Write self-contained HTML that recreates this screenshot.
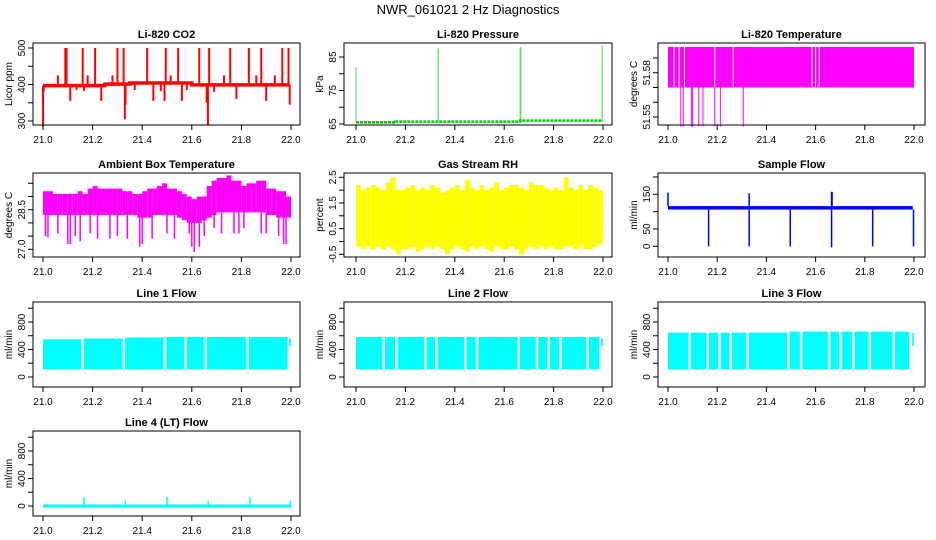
<!DOCTYPE html>
<html><head><meta charset="utf-8"><style>
html,body{margin:0;padding:0;background:#fff;}
svg{display:block;font-family:"Liberation Sans",Arial,sans-serif;}
</style></head><body>
<svg id="chart" width="936" height="540" viewBox="0 0 936 540" xmlns="http://www.w3.org/2000/svg">
<rect x="0" y="0" width="936" height="540" fill="#fff"/>
<text x="468" y="14" text-anchor="middle" font-size="13">NWR_061021  2 Hz Diagnostics</text>
</svg>
<script>
// ---- data ----
var xTicks = [21.0, 21.2, 21.4, 21.6, 21.8, 22.0];
var xTickLabels = ["21.0", "21.2", "21.4", "21.6", "21.8", "22.0"];

var co2BaseT = [21.0, 21.25, 21.35, 21.6, 21.995];
var co2BaseV = [397, 401, 404, 399, 399];
var co2SpikeT = [21.0, 21.003, 21.06, 21.09, 21.095, 21.11, 21.135, 21.16, 21.165, 21.18, 21.21, 21.235, 21.28, 21.30, 21.325, 21.33, 21.333, 21.37, 21.42, 21.445, 21.475, 21.49, 21.495, 21.515, 21.545, 21.56, 21.58, 21.63, 21.66, 21.665, 21.67, 21.69, 21.73, 21.755, 21.78, 21.83, 21.86, 21.88, 21.90, 21.935, 21.965, 21.99, 21.995];
var co2SpikeV = [285, 380, 425, 500, 500, 355, 385, 500, 382, 425, 500, 355, 425, 500, 500, 305, 345, 385, 500, 355, 382, 355, 500, 425, 500, 355, 385, 500, 350, 288, 500, 380, 425, 500, 360, 500, 425, 500, 355, 425, 500, 500, 345];

var presBaseT = [21.0, 21.16, 21.665, 21.995];
var presBaseV = [65.5, 65.7, 66.0, 66.0];
var presSpikeT = [21.0, 21.333, 21.665, 21.667, 21.997];
var presSpikeV = [82, 87.5, 88, 88, 88.3];

var tempBandLo = 51.570;
var tempBandHi = 51.5975;
var tempGapT = [21.025, 21.045, 21.067, 21.19, 21.265, 21.585, 21.60, 21.615];
var tempDropT = [21.052, 21.062, 21.095, 21.100, 21.125, 21.142, 21.19, 21.213, 21.306];
var tempDropV = [51.5435, 51.5435, 51.5435, 51.5435, 51.5435, 51.5435, 51.5435, 51.5435, 51.5435];

var ambHi = [29.2,29.2,29.1,29.1,29.1, 29.1,29.1,29.2,29.1,29.3, 29.4,29.3,29.3,29.3,29.3, 29.3,29.2,29.2,29.1,29.1, 29.2,29.3,29.3,29.4,29.5, 29.3,29.3,29.2,29.1,29.0, 28.9,29.0,29.0,29.4,29.6, 29.7,29.7,29.8,29.6,29.6, 29.4,29.5,29.5,29.6,29.6, 29.3,29.3,29.2,29.2,29.0];
var ambLo = [28.3,28.3,28.3,28.3,28.3, 28.3,28.3,28.3,28.3,28.3, 28.3,28.3,28.3,28.3,28.3, 28.3,28.3,28.3,28.3,28.2, 28.2,28.2,28.3,28.3,28.3, 28.3,28.3,28.2,28.1,28.0, 28.0,28.0,28.1,28.2,28.3, 28.4,28.4,28.4,28.4,28.4, 28.4,28.4,28.4,28.4,28.4, 28.3,28.3,28.2,28.2,28.2];
var ambDipT = [21.01,21.02,21.06,21.10,21.11,21.13,21.15,21.19,21.22,21.27,21.30,21.34,21.39,21.40,21.44,21.50,21.53,21.59,21.60,21.61,21.63,21.65,21.69,21.72,21.77,21.79,21.81,21.88,21.90,21.95,21.97,21.98];
var ambDipV = [27.5,27.45,27.6,27.2,27.2,27.5,27.3,27.6,27.4,27.4,27.5,27.4,27.1,27.2,27.4,27.6,27.4,27.6,27.1,26.9,27.1,27.5,27.8,27.6,27.6,27.6,27.8,27.6,27.6,27.5,27.2,27.2];

var rhHi = [2.2,2.0,2.1,2.2,2.1,2.0,2.3,2.5,2.0,2.0, 2.1,2.2,2.0,2.1,2.0,2.2,2.1,1.9,2.0,2.1, 2.2,2.0,2.4,2.1,2.0,2.2,2.0,2.1,2.3,2.0, 2.1,2.2,2.2,2.1,2.0,2.3,2.2,2.2,2.1,2.0, 2.1,2.0,2.5,2.1,2.0,2.2,2.0,2.2,2.1,2.0];
var rhLo = [-0.2,-0.3,-0.2,-0.3,-0.2,-0.3,-0.2,-0.3,-0.5,-0.3, -0.3,-0.2,-0.4,-0.3,-0.2,-0.3,-0.2,-0.3,-0.5,-0.3, -0.2,-0.3,-0.4,-0.2,-0.3,-0.2,-0.3,-0.4,-0.2,-0.3, -0.3,-0.2,-0.3,-0.5,-0.3,-0.2,-0.3,-0.2,-0.3,-0.2, -0.3,-0.3,-0.2,-0.2,-0.3,-0.2,-0.3,-0.3,-0.2,-0.1];

var sfBandLo = 106, sfBandHi = 116;
var sfDropT = [21.165, 21.33, 21.497, 21.665, 21.832, 21.998];
var sfDropV = [0, 0, 0, -3, 0, 0];
var sfSpikeT = [21.0, 21.33, 21.665, 21.667];
var sfSpikeV = [155, 153, 157, 157];

var l1SegHi = [549, 560, 575, 583, 583, 583, 583];
var l1GapT = [21.159, 21.326, 21.492, 21.575, 21.656, 21.825, 21.991];
var l2GapT = [21.112, 21.163, 21.281, 21.325, 21.443, 21.490, 21.659, 21.733, 21.780, 21.828, 21.938, 21.99];
var l3GapT = [21.088, 21.161, 21.209, 21.255, 21.324, 21.489, 21.541, 21.655, 21.701, 21.753, 21.820, 21.918, 21.985];
var lineLo = 111;
var l2Hi = 583, l3HiA = 646, l3HiB = 660;
var l4SpikeT = [21.165, 21.332, 21.5, 21.666, 21.835, 21.998];
var l4SpikeV = [130, 80, 130, 80, 130, 80];

// ---- layout ----
var colBox = [[33, 300], [344, 612], [658, 925]];
var colX = [[43, 291], [356, 603], [668, 914]];
var rowBox = [[43, 125], [173, 257], [302, 387], [431, 516]];
var svg = document.getElementById('chart');
var NS = 'http://www.w3.org/2000/svg';
function mk(tag, attrs, parent) {
  var e = document.createElementNS(NS, tag);
  for (var k in attrs) e.setAttribute(k, attrs[k]);
  (parent || svg).appendChild(e);
  return e;
}

function panel(name, col, row, title, ylab, yRef, yTicks, yLabels) {
  var g = mk('g', {});
  
  
  var bx = colBox[col], by = rowBox[row], cx = colX[col];
  var P = {g: g,
    x: function (t) { return cx[0] + (t - 21) * (cx[1] - cx[0]); },
    y: function (v) { return yRef[1] + (v - yRef[0]) * (yRef[3] - yRef[1]) / (yRef[2] - yRef[0]); },
    bx: bx, by: by};
  var dg = mk('g', {}, g);
  
  
  P.d = dg;
  P.finish = function () {
    var fr = mk('rect', {x: bx[0], y: by[0], width: bx[1] - bx[0], height: by[1] - by[0], fill: 'none', stroke: '#000', 'stroke-width': 1}, g);
    
    
    var t = mk('text', {x: (bx[0] + bx[1]) / 2, y: by[0] - 5, 'text-anchor': 'middle', 'font-size': 11, 'font-weight': 'bold'}, g);
    t.textContent = title;
    
    
    var ym = (by[0] + by[1]) / 2;
    var yl = mk('text', {x: bx[0] - 21, y: ym, 'text-anchor': 'middle', 'font-size': 10, transform: 'rotate(-90 ' + (bx[0] - 21) + ' ' + ym + ')'}, g);
    yl.textContent = ylab;
    
    
    var xa = mk('g', {}, g);
    
    
    xTicks.forEach(function (v, i) {
      var px = P.x(v);
      mk('line', {x1: px, x2: px, y1: by[1], y2: by[1] + 5, stroke: '#000'}, xa);
      var tl = mk('text', {x: px, y: by[1] + 18, 'text-anchor': 'middle', 'font-size': 10}, xa);
      tl.textContent = xTickLabels[i];
    });
    var ya = mk('g', {}, g);
    
    
    yTicks.forEach(function (v) {
      var py = P.y(v);
      mk('line', {x1: bx[0] - 5, x2: bx[0], y1: py, y2: py, stroke: '#000'}, ya);
    });
    yLabels.forEach(function (v) {
      var py = P.y(v);
      var lx = bx[0] - 8;
      var tl = mk('text', {x: lx, y: py, 'text-anchor': 'middle', 'font-size': 10, transform: 'rotate(-90 ' + lx + ' ' + py + ')'}, ya);
      tl.textContent = name === 'ambient' ? v.toFixed(1) : (name === 'temp' ? v.toFixed(2) : (name === 'rh' ? v.toFixed(1) : String(v)));
    });
  };
  return P;
}
function vline(P, t, v1, v2, color, w) {
  return mk('line', {x1: P.x(t), x2: P.x(t), y1: P.y(v1), y2: P.y(v2), stroke: color, 'stroke-width': w || 1}, P.d);
}
function band(P, t1, t2, v1, v2, color) {
  var a = P.x(t1), b = P.x(t2), c = P.y(v2), d = P.y(v1);
  return mk('rect', {x: Math.min(a, b), y: Math.min(c, d), width: Math.abs(b - a), height: Math.abs(d - c), fill: color}, P.d);
}
function stepLine(P, ts, vs, color, w, dash) {
  var pts = [];
  for (var i = 0; i < ts.length; i++) {
    if (i > 0) pts.push(P.x(ts[i]) + ',' + P.y(vs[i - 1]));
    pts.push(P.x(ts[i]) + ',' + P.y(vs[i]));
  }
  var a = {points: pts.join(' '), fill: 'none', stroke: color, 'stroke-width': w};
  if (dash) a['stroke-dasharray'] = dash;
  return mk('polyline', a, P.d);
}

// CO2
var p = panel('co2', 0, 0, 'Li-820 CO2', 'Licor ppm', [500, 48, 300, 121], [300, 350, 400, 450, 500], [300, 400, 500]);
co2SpikeT.forEach(function (t, i) {
  var base = co2BaseV[0];
  for (var k = 0; k < co2BaseT.length; k++) if (t >= co2BaseT[k]) base = co2BaseV[k];
  vline(p, t, base, co2SpikeV[i], '#ff0000', 2);
});
stepLine(p, co2BaseT, co2BaseV, '#ff0000', 3.5);
p.finish();

// Pressure
p = panel('pressure', 1, 0, 'Li-820 Pressure', 'kPa', [85, 57, 65, 124], [65, 70, 75, 80, 85], [65, 75, 85]);
presSpikeT.forEach(function (t, i) { vline(p, t, 65.8, presSpikeV[i], '#00cc00', 1.5).setAttribute('stroke-dasharray', '1,1'); });
stepLine(p, presBaseT, presBaseV, '#00cc00', 2.5, '3,1');
p.finish();

// Li-820 temperature
p = panel('temp', 2, 0, 'Li-820 Temperature', 'degrees C', [51.59, 58, 51.55, 117], [51.55, 51.56, 51.57, 51.58, 51.59], [51.55, 51.58]);
band(p, 21.0, 22.0, tempBandLo, tempBandHi, '#ff00ff');
tempDropT.forEach(function (t, i) { vline(p, t, tempBandLo, tempDropV[i], '#ff00ff', 1); });
tempGapT.forEach(function (t) { vline(p, t, tempBandLo + 0.0005, tempBandHi, '#ffffff', 1); });
p.finish();

// Ambient
p = panel('ambient', 0, 1, 'Ambient Box Temperature', 'degrees C', [29.5, 183.3, 27.0, 249.3], [27.0, 27.5, 28.0, 28.5, 29.0, 29.5], [27.0, 28.5]);
ambHi.forEach(function (h, i) { band(p, 21 + i * 0.02, 21 + (i + 1) * 0.02, ambLo[i], h, '#ff00ff'); });
ambDipT.forEach(function (t, i) { vline(p, t, 28.4, ambDipV[i], '#ff00ff', 1.5); });
p.finish();

// RH
p = panel('rh', 1, 1, 'Gas Stream RH', 'percent', [2.5, 177.3, -0.5, 254.3], [-0.5, 0, 0.5, 1, 1.5, 2, 2.5], [-0.5, 0.5, 1.5, 2.5]);
rhHi.forEach(function (h, i) { band(p, 21 + i * 0.02, 21 + (i + 1) * 0.02, rhLo[i], h, '#ffff00'); });
p.finish();

// Sample flow
p = panel('sample-flow', 2, 1, 'Sample Flow', 'ml/min', [0, 246.3, 150, 194.3], [0, 50, 100, 150, 200], [0, 50, 150]);
band(p, 21.0, 21.995, sfBandLo, sfBandHi, '#0000ff');
sfDropT.forEach(function (t, i) { vline(p, t, sfBandLo, sfDropV[i], '#0000ff', 1.5); });
sfSpikeT.forEach(function (t, i) { vline(p, t, sfBandHi, sfSpikeV[i], '#0000ff', 1.5); });
p.finish();

function lineFlow(name, col, row, title, gaps, his, tailHi) {
  var P = panel(name, col, row, title, 'ml/min', [0, rowBox[row][1] - 10, 800, rowBox[row][1] - 65], [0, 200, 400, 600, 800, 1000], [0, 400, 800]);
  var start = 21.0;
  gaps.forEach(function (gt, i) {
    band(P, start, gt - 0.005, lineLo, his[i], '#00ffff');
    start = gt + 0.005;
  });
  band(P, 21.993, 22.0, 450, tailHi, '#00ffff');
  P.finish();
}
lineFlow('line1-flow', 0, 2, 'Line 1 Flow', l1GapT, l1SegHi, 560);
var l2His = l2GapT.map(function () { return l2Hi; });
lineFlow('line2-flow', 1, 2, 'Line 2 Flow', l2GapT, l2His, 560);
var l3His = l3GapT.map(function (t) { return t > 21.5 ? l3HiB : l3HiA; });
lineFlow('line3-flow', 2, 2, 'Line 3 Flow', l3GapT, l3His, 640);

// Line 4
p = panel('line4-flow', 0, 3, 'Line 4 (LT) Flow', 'ml/min', [0, 506, 800, 451], [0, 200, 400, 600, 800, 1000], [0, 400, 800]);
l4SpikeT.forEach(function (t, i) { vline(p, t, 0, l4SpikeV[i], '#00ffff', 1.5); });
stepLine(p, [21.0, 22.0], [0, 0], '#00ffff', 3);
p.finish();
</script>
</body></html>
